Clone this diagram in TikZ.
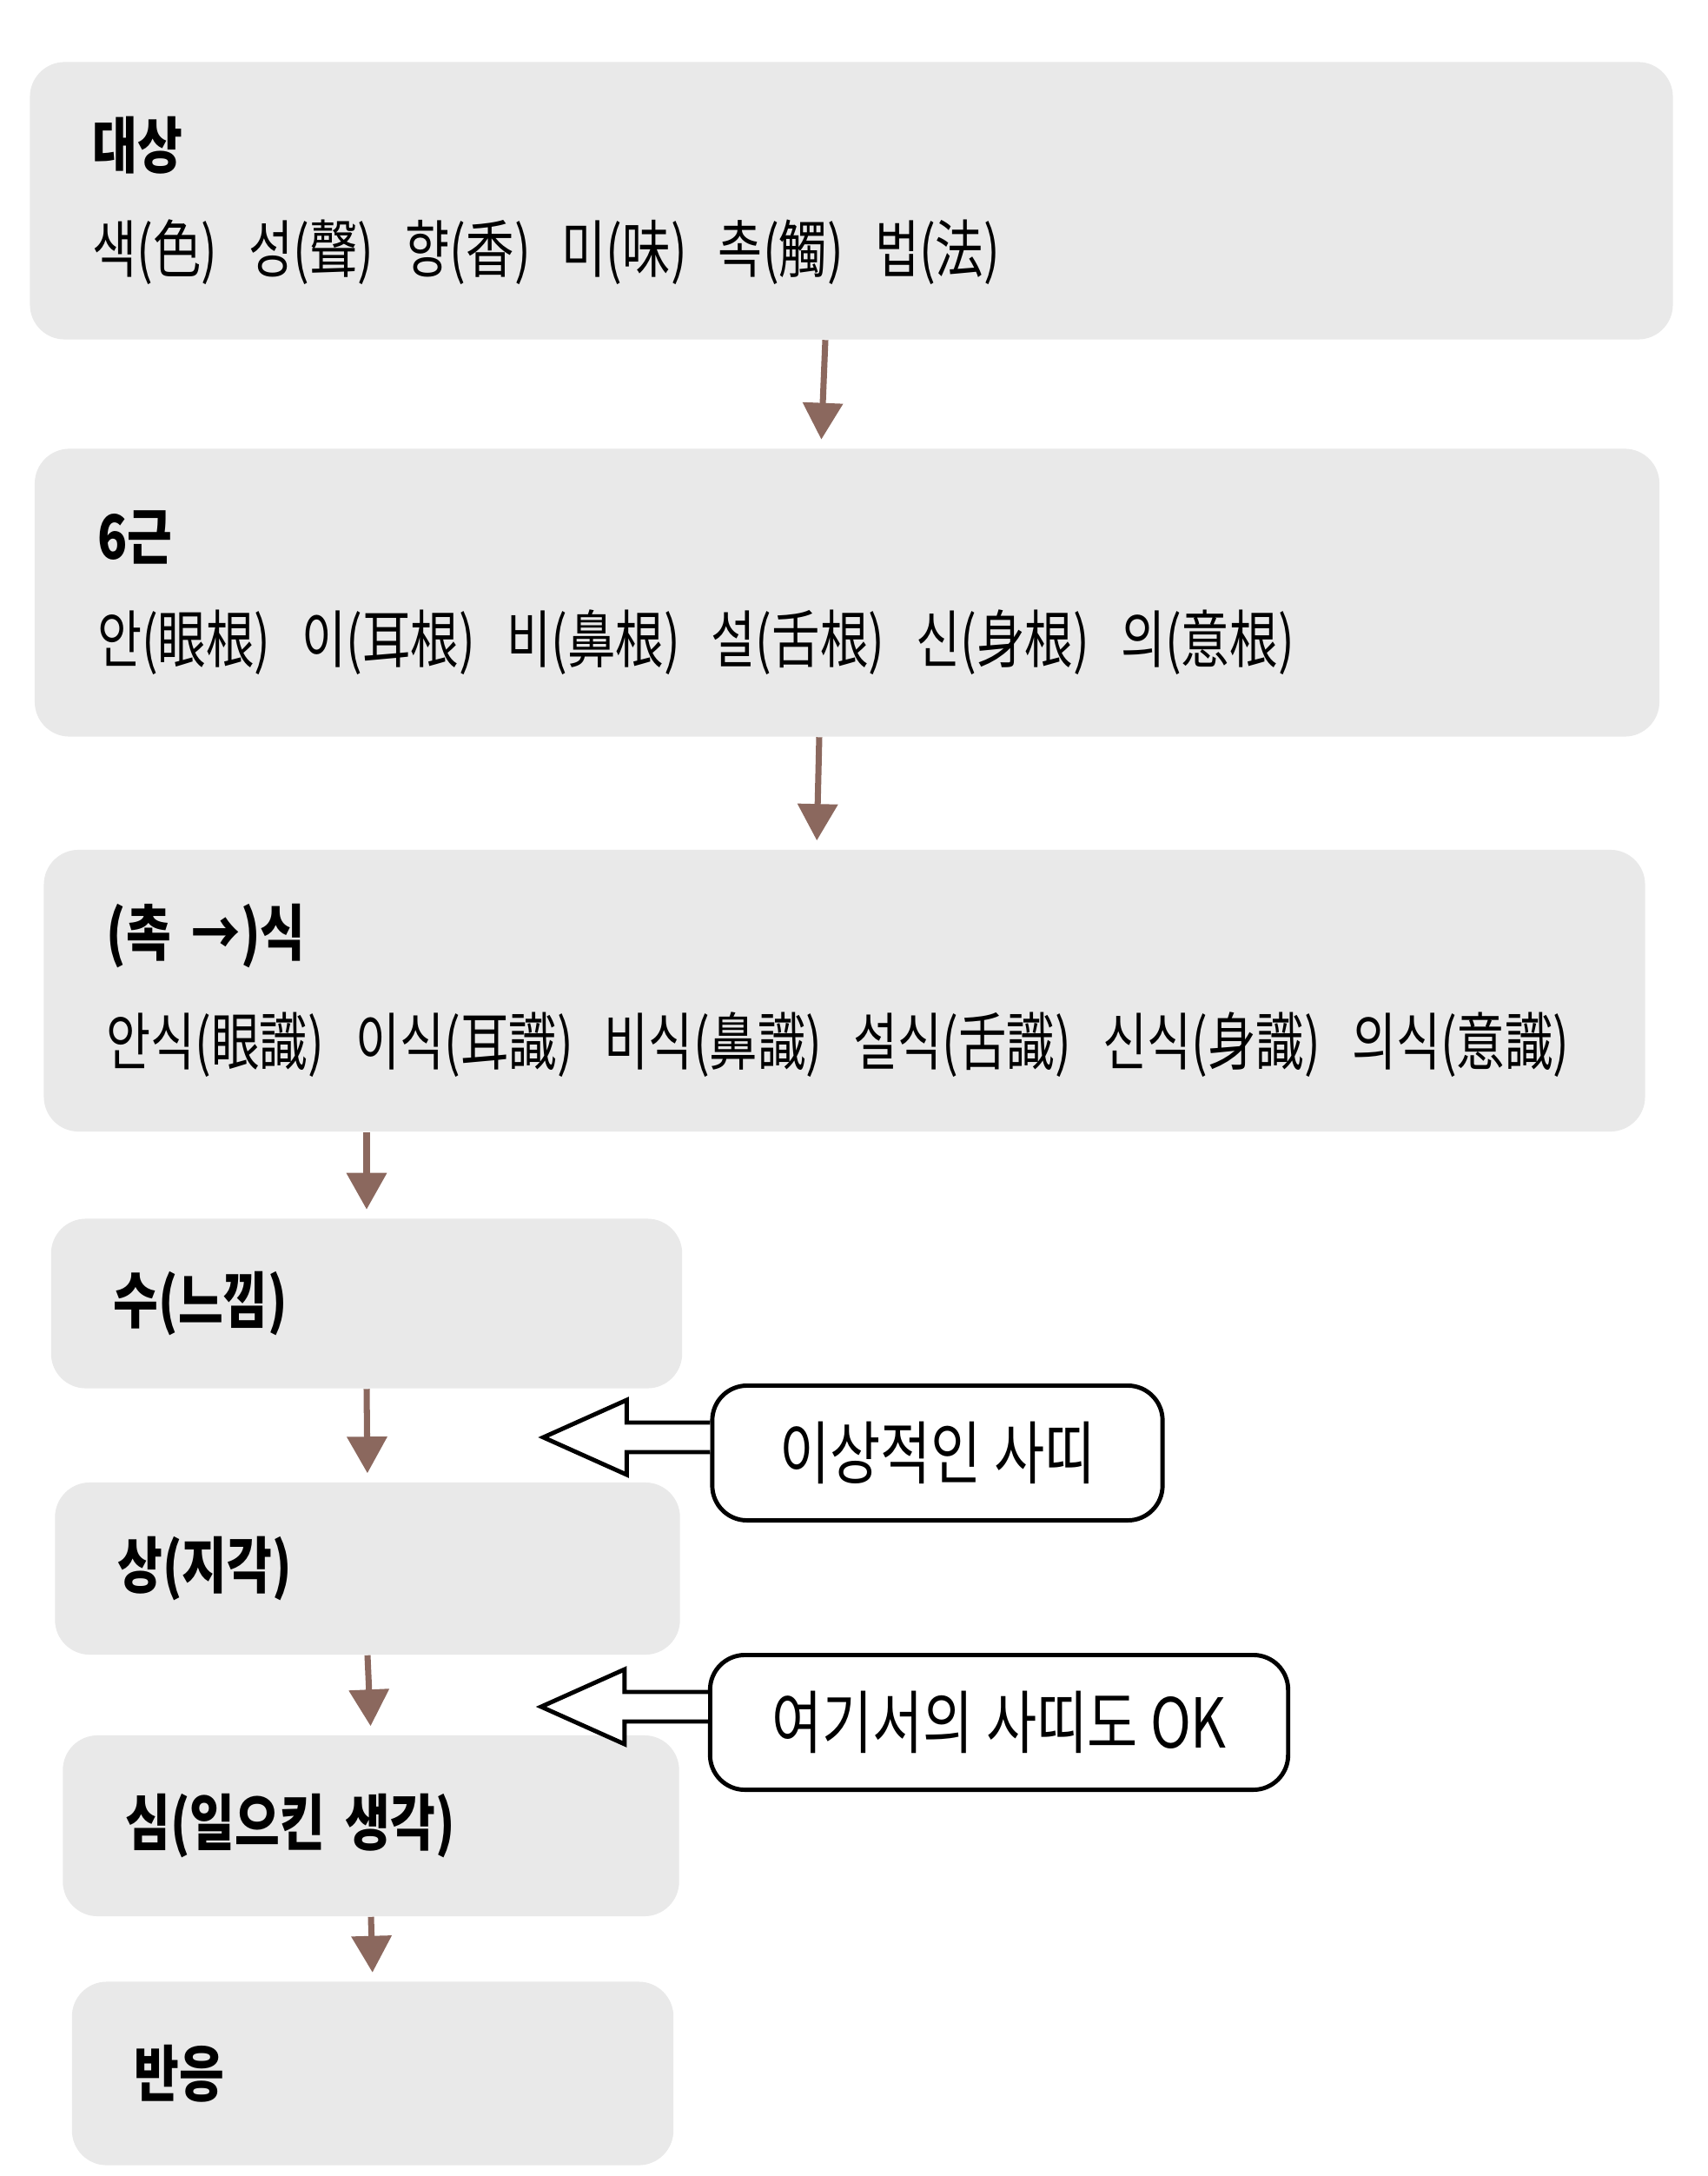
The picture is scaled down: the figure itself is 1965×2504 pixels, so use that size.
\documentclass[tikz,border=0pt]{standalone}
\usepackage{fontspec}
\setmainfont{Noto Sans CJK KR}[FakeStretch=0.8]
\newfontfamily\itemfont{Noto Sans CJK KR}[FakeStretch=0.77]
\usetikzlibrary{arrows.meta}
\definecolor{boxgray}{RGB}{233,233,233}
\definecolor{flowbrown}{RGB}{139,104,94}
\newcommand{\stagetitle}[1]{{\fontsize{20pt}{34pt}\selectfont\bfseries #1}}
\newcommand{\stageitems}[1]{{\itemfont #1}}
\newcommand{\kgap}{\hspace{0.36cm}}

\begin{document}
\begin{tikzpicture}[x=0.01cm, y=-0.01cm,
	stage/.style={fill=boxgray, rounded corners=0.4cm, inner xsep=0.72cm, inner ysep=0pt, align=left,
		font=\fontsize{20.5pt}{34pt}\selectfont},
	callout/.style={draw, line width=1.4pt, rounded corners=0.4cm, fill=white, minimum height=1.55cm,
		font=\fontsize{22.5pt}{34pt}\selectfont},
	flow/.style={flowbrown, line width=2pt, -{Triangle[width=0.45cm, length=0.42cm]}, shorten >=0.1cm},
	hollow/.style={draw, line width=1.4pt, fill=white, line join=miter}]
	\useasboundingbox (0,0) rectangle (1965,2504);
	\fill[white] (0,0) rectangle (1965,2504);
	\node[stage, text width=17.46cm, minimum height=3.19cm] (b1) at (980,231)
		{\stagetitle{대상}\\ \stageitems{색(色)\kgap 성(聲)\kgap 향(香)\kgap 미(味)\kgap 촉(觸)\kgap 법(法)}};
	\node[stage, text width=17.25cm, minimum height=3.31cm] (b2) at (975,682)
		{\stagetitle{6근}\\ \stageitems{안(眼根)\kgap 이(耳根)\kgap 비(鼻根)\kgap 설(舌根)\kgap 신(身根)\kgap 의(意根)}};
	\node[stage, text width=16.98cm, minimum height=3.24cm] (b3) at (972,1140)
		{\stagetitle{(촉 →)식}\\[2pt] \stageitems{안식(眼識)\kgap 이식(耳識)\kgap 비식(鼻識)\kgap 설식(舌識)\kgap 신식(身識)\kgap 의식(意識)}};
	\node[stage, text width=5.82cm, minimum height=1.95cm] (b4) at (422,1500) {\stagetitle{수(느낌)}};
	\node[stage, text width=5.75cm, minimum height=1.98cm] (b5) at (423,1805) {\stagetitle{상(지각)}};
	\node[stage, text width=5.65cm, minimum height=2.08cm] (b6) at (427,2101) {\stagetitle{심(일으킨 생각)}};
	\node[stage, text width=5.48cm, minimum height=2.11cm] (b7) at (429,2386) {\stagetitle{반응}};
	\draw[flow] ([xshift=-0.3cm]b1.south) -- ([xshift=-0.3cm]b2.north);
	\draw[flow] ([xshift=-0.32cm]b2.south) -- ([xshift=-0.32cm]b3.north);
	\draw[flow] (b3.south -| b4.north) -- (b4.north);
	\draw[flow] (b4.south) -- (b5.north);
	\draw[flow] (b5.south) -- (b6.north);
	\draw[flow] (b6.south) -- (b7.north);
	\node[callout, minimum width=5.18cm] (c1) at (1079,1672) {이상적인 사띠};
	\node[callout, minimum width=6.65cm] (c2) at (1150,1982) {여기서의 사띠도 OK};
	\coordinate (t1) at ([yshift=0.18cm]c1.west);
	\coordinate (t2) at ([yshift=0.18cm]c2.west);
	\draw[hollow] (t1) ++(0,-17) -- ++(-96,0) -- ++(0,-26) -- ++(-96,43) -- ++(96,43) -- ++(0,-26) -- ++(96,0);
	\draw[hollow] (t2) ++(0,-17) -- ++(-96,0) -- ++(0,-26) -- ++(-96,43) -- ++(96,43) -- ++(0,-26) -- ++(96,0);
\end{tikzpicture}
\end{document}
